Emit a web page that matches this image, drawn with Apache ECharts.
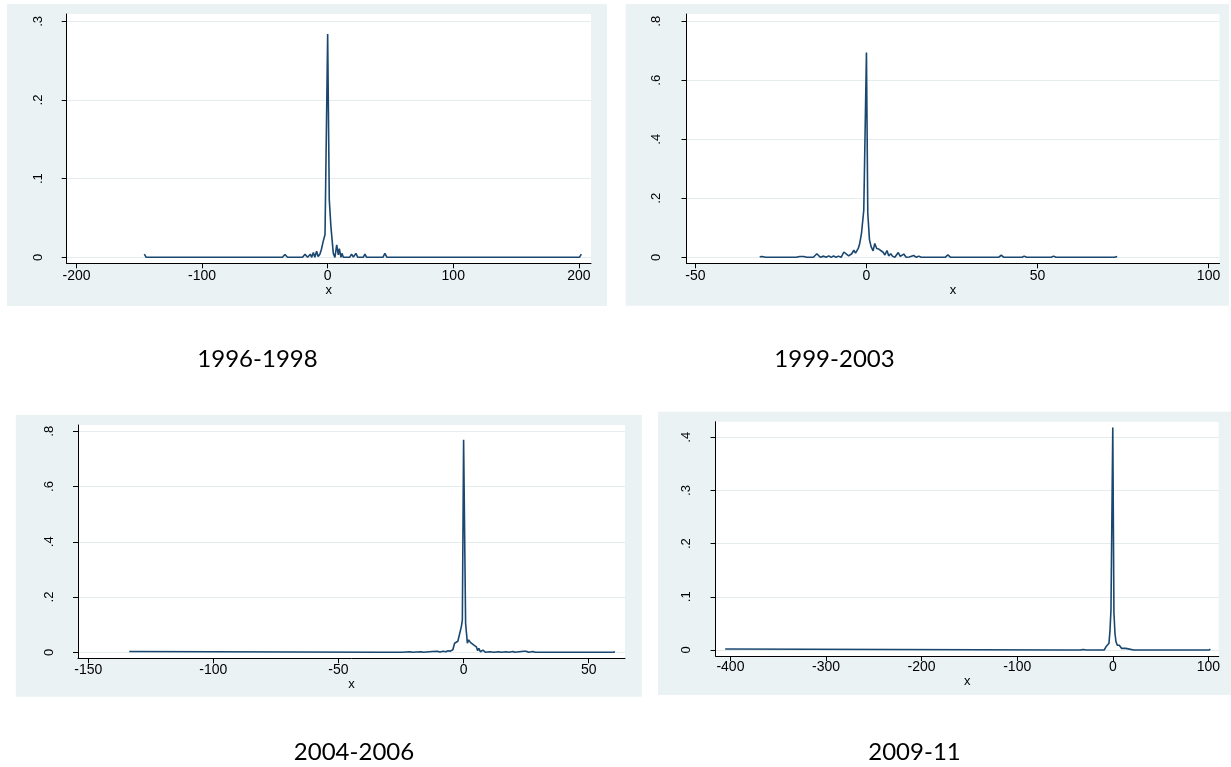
<!DOCTYPE html>
<html>
<head>
<meta charset="utf-8">
<script src="https://cdn.jsdelivr.net/npm/echarts@6/dist/echarts.min.js"></script>
<style>
  html, body { margin: 0; padding: 0; background: #ffffff; }
  #chart { width: 1231px; height: 767px; }
</style>
</head>
<body>
<div id="chart"></div>
<script>
// Kernel density of x for each period, as [x, density] pairs
const dens1996 = [
  [-146, 0.004], [-144.5, 0], [-36, 0], [-34, 0.0035], [-32, 0], [-26, 0], [-24.7, 0.0012], [-23.5, 0],
  [-20, 0], [-18, 0.004], [-16, 0], [-14.5, 0.002], [-13.8, 0.004], [-12.7, 0], [-11.4, 0.006], [-10.2, 0],
  [-8.8, 0.0076], [-7.6, 0.001], [-6.2, 0.004], [-5, 0.01], [-3.6, 0.02], [-2.1, 0.029], [0, 0.284],
  [1.3, 0.073], [2.6, 0.039], [4.5, 0.005], [5.8, 0], [7.2, 0.0157], [8.5, 0.003], [9.3, 0.011], [10.6, 0],
  [11.4, 0.005], [12.5, 0], [17.5, 0], [19, 0.004], [20.5, 0.0005], [22.5, 0.005], [24, 0], [28.3, 0],
  [29.7, 0.004], [31, 0], [44, 0], [45.6, 0.005], [47.2, 0], [200.5, 0], [202, 0.004]
];
const dens1999 = [
  [-31.2, 0.002], [-30.5, 0.003], [-29.5, 0], [-20.5, 0], [-19.5, 0.003], [-18.3, 0.003], [-17.5, 0],
  [-15.5, 0], [-14.5, 0.012], [-13.5, 0], [-12.5, 0.004], [-11.8, 0], [-11, 0.005], [-10.3, 0], [-9.6, 0.005],
  [-8.9, 0], [-8.2, 0.004], [-7.4, 0], [-6.6, 0.018], [-5.2, 0.005], [-4.3, 0.012], [-3.7, 0.024],
  [-3.2, 0.014], [-2.4, 0.03], [-2.0, 0.045], [-1.46, 0.08], [-0.78, 0.16], [0, 0.694], [0.39, 0.15],
  [0.88, 0.06], [1.36, 0.036], [1.95, 0.022], [2.43, 0.047], [3.0, 0.03], [3.6, 0.028], [4.1, 0.024],
  [4.8, 0.018], [5.4, 0.008], [6, 0.023], [6.5, 0.005], [7.1, 0.012], [7.6, 0.004], [8.3, 0], [9.3, 0.016],
  [9.9, 0.003], [10.9, 0.011], [11.6, 0], [12.5, 0.001], [13.8, 0.006], [14.6, 0], [15.3, 0.004], [16, 0],
  [23, 0], [23.8, 0.008], [24.6, 0], [38.6, 0], [39.4, 0.007], [40.2, 0], [45.5, 0], [46.1, 0.004],
  [46.8, 0], [54, 0], [54.7, 0.004], [55.4, 0], [72.5, 0], [73.3, 0.003]
];
const dens2004 = [
  [-133.6, 0.003], [-133, 0], [-34, 0], [-33.3, 0.004], [-32.5, 0], [-26, 0], [-25.3, 0.002], [-24.5, 0],
  [-21.5, 0.002], [-20.5, 0], [-17, 0.002], [-16, 0], [-12.5, 0.003], [-11.8, 0], [-10.5, 0.004],
  [-9.5, 0.001], [-8.2, 0.004], [-7, 0.002], [-6.2, 0.006], [-5.4, 0.004], [-4.3, 0.009], [-3.6, 0.033],
  [-2.9, 0.035], [-2.3, 0.04], [-0.9, 0.093], [-0.5, 0.117], [0, 0.769], [0.8, 0.105], [1.5, 0.033],
  [2, 0.045], [2.8, 0.035], [3.5, 0.039], [4, 0.027], [4.5, 0.03], [5.1, 0.02], [5.6, 0.006], [6.1, 0.014],
  [6.7, 0.002], [7.7, 0.008], [8.8, 0], [10.5, 0.002], [12, 0], [14, 0.002], [15, 0], [17, 0.002], [18, 0],
  [19.7, 0.003], [20.5, 0], [24, 0.004], [25, 0.004], [26, 0], [27.7, 0.003], [28.5, 0], [45, 0],
  [45.7, 0.003], [46.4, 0], [56.3, 0], [57, 0.004], [57.7, 0], [60, 0], [60.4, 0.003]
];
const dens2009 = [
  [-405.5, 0.002], [-404, 0], [-52, 0], [-51, 0.002], [-50, 0], [-33.5, 0], [-32.5, 0.0025], [-31, 0.001],
  [-29, 0.0025], [-27.5, 0], [-25.6, 0.002], [-24, 0], [-19.5, 0], [-18.6, 0.0025], [-17.5, 0], [-9, 0],
  [-8.2, 0.002], [-7.1, 0.006], [-5.4, 0.009], [-4, 0.0125], [-2.9, 0.037], [-1.9, 0.075], [0, 0.4186],
  [1.2, 0.07], [2.3, 0.031], [3.3, 0.016], [4.7, 0.009], [6.8, 0.009], [9.3, 0.003], [11, 0], [13.5, 0.003],
  [15.5, 0], [22, 0], [23, 0.0025], [24, 0], [101, 0], [102, 0.002]
];

// Period captions and axis tick values
const periodLabels = ['1996-1998', '1999-2003', '2004-2006', '2009-11'];
const xTicks1996 = [-200, -100, 0, 100, 200];
const yTicks1996 = [0, 0.1, 0.2, 0.3];
const xTicks1999 = [-50, 0, 50, 100];
const yTicks1999 = [0, 0.2, 0.4, 0.6, 0.8];
const xTicks2004 = [-150, -100, -50, 0, 50];
const yTicks2004 = [0, 0.2, 0.4, 0.6, 0.8];
const xTicks2009 = [-400, -300, -200, -100, 0, 100];
const yTicks2009 = [0, 0.1, 0.2, 0.3, 0.4];

// Layout of the four graph panels (pixels) and their plot-region ranges
const panels = [
  { data: dens1996, xTicks: xTicks1996, yTicks: yTicks1996, xRange: [-207.8, 209.7], yRange: [-0.0076, 0.3093],
    bg: [7, 4, 600, 302], grid: [66.7, 14, 524.3, 249.3], caption: [257.5, 359], yMargin: 22, xMargin: 6, nameGap: 15 },
  { data: dens1999, xTicks: xTicks1999, yTicks: yTicks1999, xRange: [-52.6, 103.2], yRange: [-0.0203, 0.8247],
    bg: [625.6, 4, 603.4, 301.7], grid: [686.5, 14, 533, 249.3], caption: [834.5, 359], yMargin: 24, xMargin: 6, nameGap: 15 },
  { data: dens2004, xTicks: xTicks2004, yTicks: yTicks2004, xRange: [-154.1, 64.5], yRange: [-0.0217, 0.8228],
    bg: [15.8, 415, 626, 281.7], grid: [78, 425, 547, 233.3], caption: [354, 752], yMargin: 22, xMargin: 5, nameGap: 14 },
  { data: dens2009, xTicks: xTicks2009, yTicks: yTicks2009, xRange: [-415.5, 110.8], yRange: [-0.0113, 0.4293],
    bg: [658, 411.7, 573, 283.3], grid: [715.6, 421.7, 503.1, 234.3], caption: [914.5, 752], yMargin: 23, xMargin: 4, nameGap: 14 }
];

const LINE = '#1a476f';
const PANEL_BG = '#eaf2f3';
const GRID_LINE = '#e4ecee';
const axisFont = { fontFamily: 'Liberation Sans', fontSize: 13, color: '#000' };
const xLabelFont = { fontFamily: 'Liberation Sans', fontSize: 14, color: '#000' };

// Density axis labels in the ".2" style
function densityLabel(v) {
  if (Math.abs(v) < 1e-9) return '0';
  return String(+v.toFixed(1)).replace(/^0/, '');
}

const grids = [], xAxes = [], yAxes = [], series = [], graphics = [];
panels.forEach((p, i) => {
  graphics.push({
    type: 'rect', z: -10, silent: true,
    shape: { x: p.bg[0], y: p.bg[1], width: p.bg[2], height: p.bg[3] },
    style: { fill: PANEL_BG }
  });
  graphics.push({
    type: 'text', silent: true,
    x: p.caption[0], y: p.caption[1],
    style: { text: periodLabels[i], fontFamily: 'Lato', fontSize: 24, fill: '#000',
             textAlign: 'center', textVerticalAlign: 'middle' }
  });
  grids.push({
    left: p.grid[0], top: p.grid[1], width: p.grid[2], height: p.grid[3],
    show: true, backgroundColor: '#ffffff', borderWidth: 0, containLabel: false
  });
  xAxes.push({
    type: 'value', gridIndex: i, min: p.xRange[0], max: p.xRange[1],
    name: 'x', nameLocation: 'middle', nameGap: p.nameGap,
    nameTextStyle: Object.assign({}, axisFont),
    axisLine: { show: true, onZero: false, lineStyle: { color: '#000', width: 1 } },
    axisTick: { show: true, inside: false, length: 5, customValues: p.xTicks, lineStyle: { color: '#000', width: 1 } },
    axisLabel: Object.assign({ customValues: p.xTicks, margin: p.xMargin, showMinLabel: true, showMaxLabel: true }, xLabelFont),
    splitLine: { show: false }
  });
  yAxes.push({
    type: 'value', gridIndex: i, min: p.yRange[0], max: p.yRange[1],
    axisLine: { show: true, onZero: false, lineStyle: { color: '#000', width: 1 } },
    axisTick: { show: true, inside: false, length: 5, customValues: p.yTicks, lineStyle: { color: '#000', width: 1 } },
    axisLabel: Object.assign({ customValues: p.yTicks, rotate: 90, margin: p.yMargin, formatter: densityLabel }, axisFont),
    splitLine: { show: true, lineStyle: { color: GRID_LINE, width: 1.2 } }
  });
  series.push({
    type: 'line', xAxisIndex: i, yAxisIndex: i, data: p.data,
    showSymbol: false, symbol: 'none', smooth: false,
    lineStyle: { color: LINE, width: 1.6 }
  });
});

const chart = echarts.init(document.getElementById('chart'), null, { renderer: 'canvas' });
chart.setOption({
  animation: false,
  backgroundColor: '#ffffff',
  grid: grids,
  xAxis: xAxes,
  yAxis: yAxes,
  series: series,
  graphic: graphics
});
</script>
</body>
</html>
